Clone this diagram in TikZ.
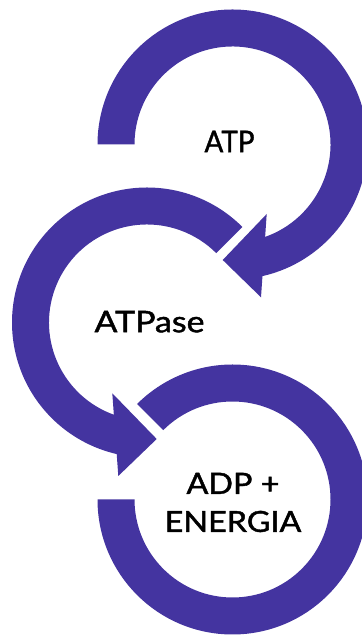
\documentclass[tikz,border=0pt]{standalone}
\usepackage{fontspec}
\setmainfont{Lato}
\newfontfamily\labelfont{Lato}[FakeBold=1.4]
\usetikzlibrary{calc}
\definecolor{arcpurple}{RGB}{68,52,160}
\newcommand{\fitword}[3]{\resizebox{#1pt}{#2pt}{#3}}
\begin{document}
\begin{tikzpicture}[x=1pt,y=1pt,
  ring/.style={fill=arcpurple},
  txt/.style={font=\labelfont\fontsize{29}{38}\selectfont, inner sep=0pt, align=center, text=black}]
\useasboundingbox (0,0) rectangle (361,636);
\coordinate (c1) at (232.5,491.5);
\coordinate (c2) at (147,313.5);
\coordinate (c3) at (232.5,136.5);
% ADP ring
\fill[ring] ($(c3)+(180:135)$) arc[start angle=180,end angle=495,radius=135]
  -- ($(c3)+(495:98)$) arc[start angle=495,end angle=180,radius=98] -- cycle;
% ATPase arrow
\fill[ring] ($(c2)+(45:135)$) arc[start angle=45,end angle=257.03,radius=135]
  -- (118.3,160) -- (156.7,197) -- (112.3,242.7)
  -- ($(c2)+(250.23:98)$) arc[start angle=250.23,end angle=45,radius=98] -- cycle;
% ATP arrow
\fill[ring] ($(c1)+(180:135)$) arc[start angle=180,end angle=-77.18,radius=135]
  -- (261,338.7) -- (222.7,376) -- (266.7,422)
  -- ($(c1)+(-70.55:98)$) arc[start angle=-70.55,end angle=180,radius=98] -- cycle;
\node[txt] (atp) at (229.5,494.5) {\fitword{50}{21.5}{ATP}};
\node[txt] (atpase) at (149.5,314.3) {\fitword{110}{21.3}{ATPase}};
\node[txt] (adp) at (233,133.5) {\fitword{93}{21}{ADP +}\\\fitword{136.5}{21}{ENERGIA}};
\end{tikzpicture}
\end{document}
